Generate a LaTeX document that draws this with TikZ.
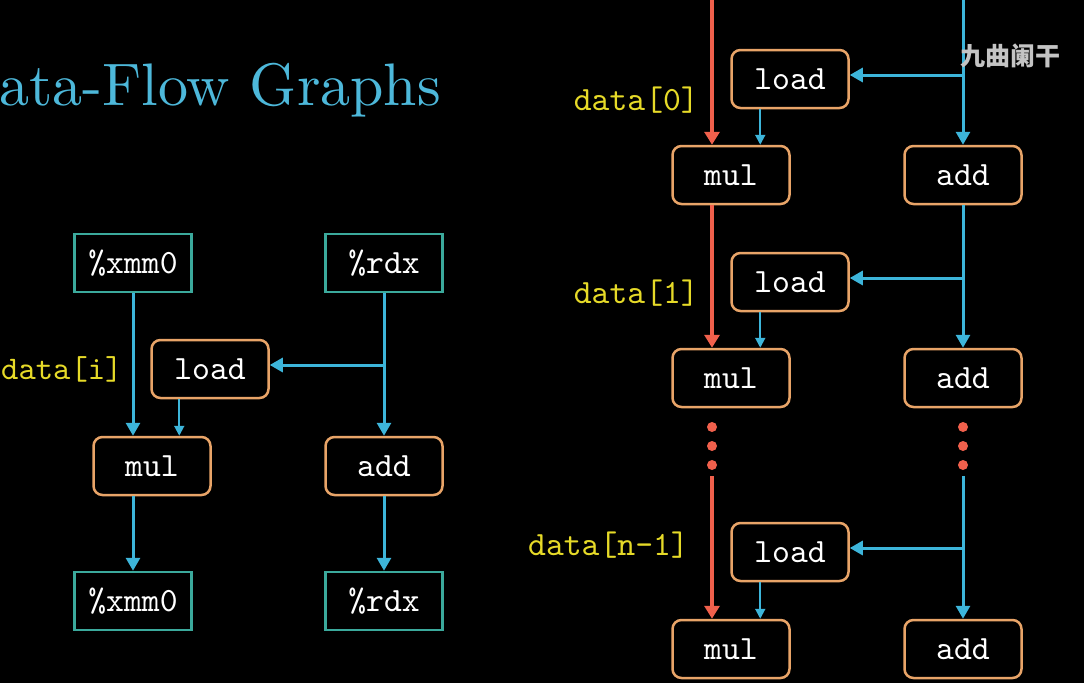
\documentclass[tikz,border=0pt]{standalone}
\usepackage{fontspec}
\newfontfamily\cjk{Noto Sans CJK SC}
\newfontfamily\titlefont{lmroman10-regular.otf}
\newfontfamily\codefont{lmmono10-regular.otf}
\usetikzlibrary{arrows.meta}
\definecolor{tealc}{HTML}{3BA99C}
\definecolor{orangec}{HTML}{E8A468}
\definecolor{cyanc}{HTML}{3DB5DA}
\definecolor{redc}{HTML}{F0604C}
\definecolor{yellowc}{HTML}{E6DA28}
\definecolor{titlec}{HTML}{4DB8DA}
\definecolor{wmc}{HTML}{C4C4C4}
\begin{document}
\begin{tikzpicture}[x=1pt,y=-1pt,
  reg/.style={draw=tealc, line width=2.5pt, fill=black, minimum width=117pt, minimum height=58pt, inner sep=0pt, text=white, font=\codefont\fontsize{34}{34}\selectfont},
  op/.style={reg, draw=orangec, rounded corners=9pt},
  flow/.style={draw=cyanc, line width=3pt, -{Triangle[width=14pt,length=13pt]}},
  flowthin/.style={draw=cyanc, line width=2pt, -{Triangle[width=10pt,length=10pt]}},
  redflow/.style={draw=redc, line width=4pt, -{Triangle[width=15pt,length=13pt]}},
  lbl/.style={text=yellowc, inner sep=0pt, font=\codefont\fontsize{34}{34}\selectfont},
  dotc/.style={fill=redc, draw=none}]
\useasboundingbox (0,0) rectangle (1084,683);
\fill[black] (0,0) rectangle (1084,683);
% title
\node[anchor=base west, inner sep=0pt, text=titlec, font=\titlefont\fontsize{60}{60}\selectfont] (title) at (-1,105) {ata-Flow Graphs};
% ---------- left graph ----------
\node[reg] (x0) at (133,263) {\%xmm0};
\node[reg] (r0) at (384,263) {\%rdx};
\node[op] (ld) at (210,369) {load};
\node[op] (mul) at (152,466) {mul};
\node[op] (add) at (384,466) {add};
\node[reg] (x1) at (133,601) {\%xmm0};
\node[reg] (r1) at (384,601) {\%rdx};
\node[lbl, anchor=west, font=\codefont\fontsize{33}{33}\selectfont] (di) at (1,369) {data[i]};
\draw[flow] (x0.south) -- (x0.south |- mul.north);
\coordinate (ldo) at ([xshift=29pt]ld.south west);
\draw[flowthin] (ldo) -- (ldo |- mul.north);
\draw[flow] (r0.south) -- (add.north);
\coordinate (bl) at (384,365);
\draw[flow] (bl) -- (bl -| ld.east);
\draw[flow] (mul.south -| x0) -- (x1.north);
\draw[flow] (add.south) -- (r1.north);
% ---------- right graph ----------
\coordinate (rtop) at (712,-2);
\coordinate (btop) at (963,-2);
\node[op] (l1) at (790,79) {load};
\node[op] (m1) at (731,175) {mul};
\node[op] (a1) at (963,175) {add};
\node[op] (l2) at (790,282) {load};
\node[op] (m2) at (731,378) {mul};
\node[op] (a2) at (963,378) {add};
\node[op] (l3) at (790,552) {load};
\node[op] (m3) at (731,649) {mul};
\node[op] (a3) at (963,649) {add};
\node[lbl, anchor=east] (d0) at (699,100) {data[0]};
\node[lbl, anchor=east] (d1) at (699,293) {data[1]};
\node[lbl, anchor=east] (dn) at (689,545) {data[n-1]};
% red chain
\draw[redflow] (rtop) -- (rtop |- m1.north);
\draw[redflow] (m1.south -| rtop) -- (m2.north -| rtop);
\coordinate (rd) at (712,476);
\draw[redflow] (rd) -- (rd |- m3.north);
% blue chain
\draw[flow] (btop) -- (a1.north);
\draw[flow] (a1.south) -- (a2.north);
\coordinate (bd) at (963,476);
\draw[flow] (bd) -- (a3.north);
% branches to loads
\coordinate (b1) at (963,75);
\draw[flow] (b1) -- (b1 -| l1.east);
\coordinate (b2) at (963,278);
\draw[flow] (b2) -- (b2 -| l2.east);
\coordinate (b3) at (963,548);
\draw[flow] (b3) -- (b3 -| l3.east);
% load -> mul
\coordinate (o1) at ([xshift=30pt]l1.south west);
\draw[flowthin] (o1) -- (o1 |- m1.north);
\coordinate (o2) at ([xshift=30pt]l2.south west);
\draw[flowthin] (o2) -- (o2 |- m2.north);
\coordinate (o3) at ([xshift=30pt]l3.south west);
\draw[flowthin] (o3) -- (o3 |- m3.north);
% dots
\foreach \yy in {427,446,465} {
  \fill[dotc] (712,\yy) circle (5pt);
  \fill[dotc] (963,\yy) circle (5pt);
}
% watermark
\node[anchor=west, inner sep=0pt, text=wmc, font=\cjk\bfseries\fontsize{25}{25}\selectfont] (wm) at (960,56) {九曲阑干};
\end{tikzpicture}
\end{document}
